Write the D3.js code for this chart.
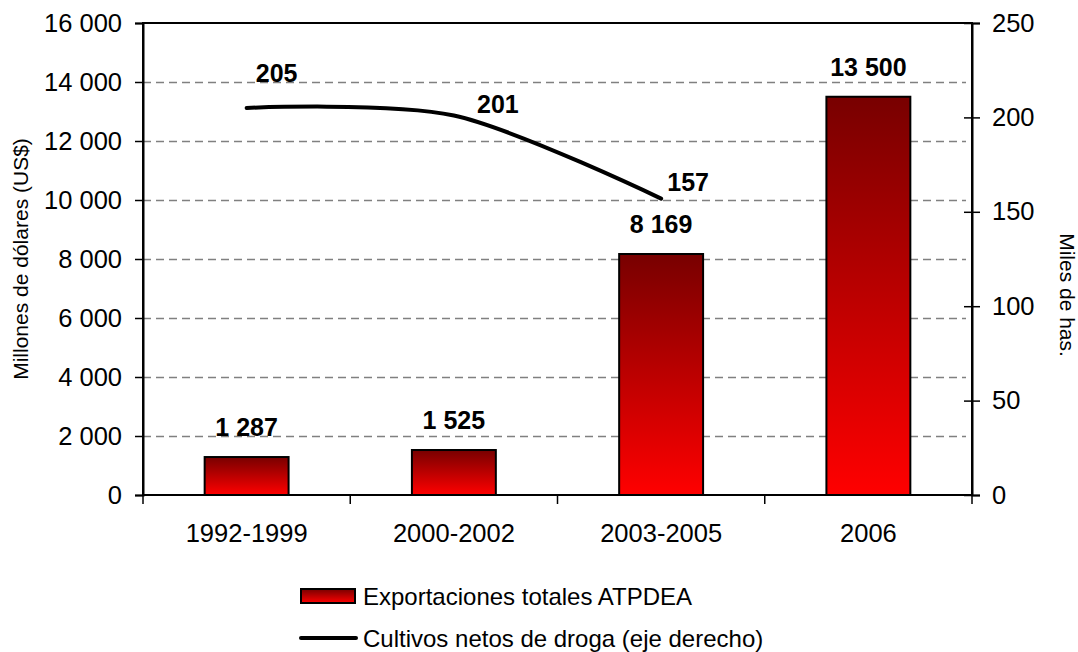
<!DOCTYPE html>
<html>
<head>
<meta charset="utf-8">
<script src="https://cdn.jsdelivr.net/npm/d3@7"></script>
<style>
  html, body { margin: 0; padding: 0; background: #fff; }
  svg { display: block; font-family: "Liberation Sans", Arial, sans-serif; }
</style>
</head>
<body>
<svg id="chart" width="1078" height="652"></svg>
<script>
// ---- data ----
const categories = ["1992-1999", "2000-2002", "2003-2005", "2006"];
const exportValues = [1287, 1525, 8169, 13500];
const exportLabels = ["1 287", "1 525", "8 169", "13 500"];
const cropValues = [205, 201, 157];
const cropLabels = ["205", "201", "157"];
const leftTicks = [0, 2000, 4000, 6000, 8000, 10000, 12000, 14000, 16000];
const rightTicks = [0, 50, 100, 150, 200, 250];
const seriesNames = ["Exportaciones totales ATPDEA", "Cultivos netos de droga (eje derecho)"];
const leftTitle = "Millones de dólares (US$)";
const rightTitle = "Miles de has.";

// ---- layout ----
const svg = d3.select("#chart");
const m = { left: 143, right: 972, top: 23, bottom: 495 };
const FONT = "Liberation Sans, Arial, sans-serif";

const x = d3.scaleBand().domain(categories).range([m.left, m.right]).paddingInner(0).paddingOuter(0);
const yL = d3.scaleLinear().domain([0, 16000]).range([m.bottom, m.top]);
const yR = d3.scaleLinear().domain([0, 250]).range([m.bottom, m.top]);
const fmt = d => d3.format(",")(d).replace(/,/g, " ");

// gradient
const defs = svg.append("defs");
const grad = defs.append("linearGradient").attr("id", "barGrad")
  .attr("x1", 0).attr("y1", 0).attr("x2", 0).attr("y2", 1);
grad.append("stop").attr("offset", "0%").attr("stop-color", "#780000");
grad.append("stop").attr("offset", "100%").attr("stop-color", "#ff0000");

// gridlines
svg.append("g").selectAll("line")
  .data(leftTicks.filter(t => t > 0 && t < 16000))
  .join("line")
  .attr("x1", m.left).attr("x2", m.right - 6)
  .attr("y1", d => yL(d) + 0.5).attr("y2", d => yL(d) + 0.5)
  .attr("stroke", "#808080").attr("stroke-width", 1.3)
  .attr("stroke-dasharray", "8,5");

// bars
const barW = x.bandwidth() * 0.405;
svg.append("g").selectAll("rect")
  .data(exportValues)
  .join("rect")
  .attr("x", (d, i) => x(categories[i]) + x.bandwidth() / 2 - barW / 2)
  .attr("y", d => yL(d))
  .attr("width", barW)
  .attr("height", d => yL(0) - yL(d))
  .attr("fill", "url(#barGrad)")
  .attr("stroke", "#000").attr("stroke-width", 2);

// bar labels
svg.append("g").selectAll("text")
  .data(exportValues)
  .join("text")
  .attr("x", (d, i) => x(categories[i]) + x.bandwidth() / 2)
  .attr("y", d => yL(d) - 21)
  .attr("text-anchor", "middle")
  .attr("font-size", 25).attr("font-weight", "bold")
  .text((d, i) => exportLabels[i]);

// line
const line = d3.line()
  .x((d, i) => x(categories[i]) + x.bandwidth() / 2)
  .y(d => yR(d))
  .curve(d3.curveCardinal.tension(0.1));
svg.append("path")
  .attr("d", line(cropValues))
  .attr("fill", "none").attr("stroke", "#000")
  .attr("stroke-width", 4).attr("stroke-linecap", "round");

// line labels
const lblDx = [30, 44, 27];
const lblDy = [-26, -3, -8];
svg.append("g").selectAll("text")
  .data(cropValues)
  .join("text")
  .attr("x", (d, i) => x(categories[i]) + x.bandwidth() / 2 + lblDx[i])
  .attr("y", (d, i) => yR(d) + lblDy[i])
  .attr("text-anchor", "middle")
  .attr("font-size", 25).attr("font-weight", "bold")
  .text((d, i) => cropLabels[i]);

// frame
svg.append("rect")
  .attr("x", m.left).attr("y", m.top)
  .attr("width", m.right - m.left).attr("height", m.bottom - m.top)
  .attr("fill", "none").attr("stroke", "#000").attr("stroke-width", 2);

// left axis
const gL = svg.append("g").attr("transform", `translate(${m.left},0)`)
  .call(d3.axisLeft(yL).tickValues(leftTicks).tickFormat(fmt).tickSize(8).tickPadding(13));
gL.select(".domain").attr("stroke-width", 2);
gL.selectAll(".tick line").attr("stroke-width", 1.5);
gL.selectAll("text").attr("font-size", 25.5).attr("font-family", FONT).attr("fill", "#000");

// right axis
const gR = svg.append("g").attr("transform", `translate(${m.right},0)`)
  .call(d3.axisRight(yR).tickValues(rightTicks).tickSize(8).tickPadding(12));
gR.select(".domain").attr("stroke-width", 2);
gR.selectAll(".tick line").attr("x1", -8).attr("stroke-width", 1.5);
gR.selectAll("text").attr("font-size", 25.5).attr("font-family", FONT).attr("fill", "#000");

// bottom axis (boundary ticks)
const gB = svg.append("g").attr("transform", `translate(0,${m.bottom})`);
gB.call(d3.axisBottom(x).tickSize(0).tickPadding(29));
gB.select(".domain").remove();
gB.selectAll("text").attr("font-size", 25.5).attr("font-family", FONT).attr("fill", "#000");
const bounds = categories.map(c => x(c)).concat([m.right]);
gB.selectAll(".bnd").data(bounds).join("line")
  .attr("x1", d => d).attr("x2", d => d)
  .attr("y1", 0).attr("y2", 9)
  .attr("stroke", "#000").attr("stroke-width", 1.5);

// axis titles
svg.append("text")
  .attr("transform", `translate(28,${(m.top + m.bottom) / 2}) rotate(-90)`)
  .attr("text-anchor", "middle").attr("font-size", 21)
  .text(leftTitle);
svg.append("text")
  .attr("transform", `translate(1060,${(m.top + m.bottom) / 2 + 36}) rotate(90)`)
  .attr("text-anchor", "middle").attr("font-size", 21)
  .text(rightTitle);

// legend
const lg = svg.append("g");
lg.append("rect").attr("x", 301).attr("y", 589).attr("width", 54).attr("height", 14)
  .attr("fill", "url(#barGrad)").attr("stroke", "#000").attr("stroke-width", 2);
lg.append("text").attr("x", 363).attr("y", 605).attr("font-size", 24).text(seriesNames[0]);
lg.append("line").attr("x1", 301).attr("x2", 356).attr("y1", 638).attr("y2", 638)
  .attr("stroke", "#000").attr("stroke-width", 4).attr("stroke-linecap", "round");
lg.append("text").attr("x", 363).attr("y", 647).attr("font-size", 24).text(seriesNames[1]);
</script>
</body>
</html>
